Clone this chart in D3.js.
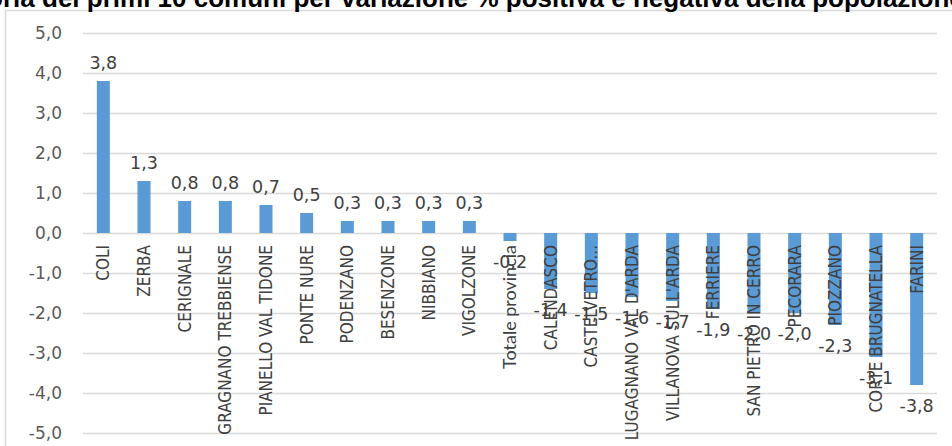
<!DOCTYPE html>
<html>
<head>
<meta charset="utf-8">
<script src="https://cdn.jsdelivr.net/npm/d3@7"></script>
<style>
  body { margin: 0; background: #fff; }
  svg { display: block; }
</style>
</head>
<body>
<div id="output"></div>
<script>
var w = 952;   // width of the svg
var h = 446;   // height of the svg

// the data
var comuni = ['COLI', 'ZERBA', 'CERIGNALE', 'GRAGNANO TREBBIENSE', 'PIANELLO VAL TIDONE',
  'PONTE NURE', 'PODENZANO', 'BESENZONE', 'NIBBIANO', 'VIGOLZONE', 'Totale provincia',
  'CALENDASCO', 'CASTELVETRO...', "LUGAGNANO VAL D'ARDA", "VILLANOVA SULL'ARDA",
  'FERRIERE', 'SAN PIETRO IN CERRO', 'PECORARA', 'PIOZZANO', 'CORTE BRUGNATELLA', 'FARINI'];
var variazioni = [3.8, 1.3, 0.8, 0.8, 0.7, 0.5, 0.3, 0.3, 0.3, 0.3, -0.2,
  -1.4, -1.5, -1.6, -1.7, -1.9, -2.0, -2.0, -2.3, -3.1, -3.8];
var yTicks = [5, 4, 3, 2, 1, 0, -1, -2, -3, -4, -5];
var titolo = 'Graduatoria dei primi 10 comuni per variazione % positiva e negativa della popolazione';

var dataset = comuni.map(function(c, i) { return { nome: c, v: variazioni[i] }; });

function fmt(v) { return v.toFixed(1).replace('.', ','); }

var numFont = '"DejaVu Sans", Verdana, sans-serif';

var svg = d3.select('#output').append('svg')
  .attr('width', w)
  .attr('height', h);

// chart area border
svg.append('rect')
  .attr('x', 5.5).attr('y', 10.5)
  .attr('width', w + 10).attr('height', h + 10)
  .attr('fill', 'none')
  .attr('stroke', '#d9d9d9')
  .attr('stroke-width', 1.5);

var x = d3.scaleBand()
  .domain(comuni)
  .range([83, 937])
  .paddingInner(0.68)
  .paddingOuter(0.34);

var y = d3.scaleLinear()
  .domain([-5, 5])
  .range([433, 33]);

// gridlines + tick labels
var yAxis = d3.axisLeft(y)
  .tickValues(yTicks)
  .tickSize(-(937 - 83))
  .tickPadding(21)
  .tickFormat(fmt);

var gy = svg.append('g')
  .attr('transform', 'translate(83,0)')
  .call(yAxis);
gy.select('.domain').remove();
gy.selectAll('line').attr('stroke', '#d9d9d9').attr('stroke-width', 1.5);
gy.selectAll('text')
  .attr('fill', '#595959')
  .style('font-family', numFont)
  .style('font-size', '17px');

// bars
svg.selectAll('rect.bar')
  .data(dataset)
  .enter()
  .append('rect')
  .attr('class', 'bar')
  .attr('x', function(d) { return x(d.nome); })
  .attr('y', function(d) { return y(Math.max(0, d.v)); })
  .attr('width', x.bandwidth())
  .attr('height', function(d) { return Math.abs(y(d.v) - y(0)); })
  .attr('fill', '#5b9bd5');

// category labels, rotated, hanging under the zero line
svg.selectAll('text.cat')
  .data(dataset)
  .enter()
  .append('text')
  .attr('class', 'cat')
  .attr('transform', function(d) {
    return 'translate(' + (x(d.nome) + x.bandwidth() / 2 + 6) + ',' + (y(0) + 12) + ') rotate(-90)';
  })
  .attr('text-anchor', 'end')
  .attr('fill', '#404040')
  .style('font-family', function(d) {
    return d.nome === 'Totale provincia' ? 'Lato, "Open Sans", sans-serif' : '"Liberation Sans Narrow", "DejaVu Sans Condensed", sans-serif';
  })
  .style('font-size', function(d) { return d.nome === 'Totale provincia' ? '18px' : '17px'; })
  .text(function(d) { return d.nome; });

// value labels
svg.selectAll('text.val')
  .data(dataset)
  .enter()
  .append('text')
  .attr('class', 'val')
  .attr('x', function(d) { return x(d.nome) + x.bandwidth() / 2; })
  .attr('y', function(d) { return d.v >= 0 ? y(d.v) - 12 : y(d.v) + 27; })
  .attr('text-anchor', 'middle')
  .attr('fill', '#404040')
  .style('font-family', numFont)
  .style('font-size', '17.5px')
  .text(function(d) { return fmt(d.v); });

// title, cut off at the top like in the picture
var t = svg.append('text')
  .attr('y', 7)
  .attr('font-family', '"Liberation Sans", Arial, sans-serif')
  .attr('font-weight', 'bold')
  .attr('font-size', 26)
  .attr('fill', '#000')
  .text('Graduato');
var pre = t.node().getComputedTextLength();
t.text(titolo).attr('x', 3 - pre);
</script>
</body>
</html>
